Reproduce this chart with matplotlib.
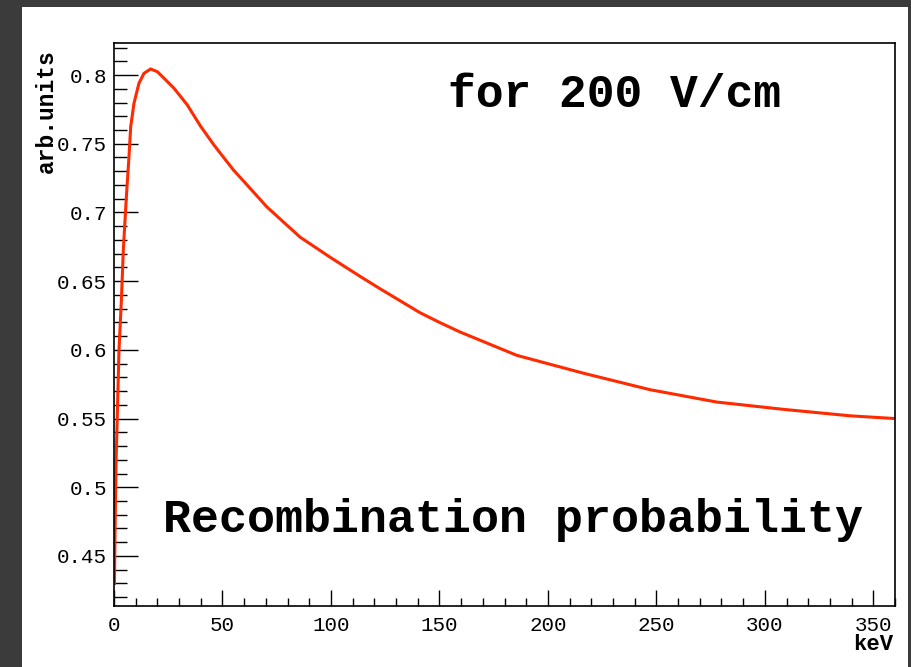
import matplotlib
matplotlib.use("Agg")
import matplotlib.pyplot as plt
from matplotlib.patches import Rectangle
from matplotlib.ticker import FixedLocator, FixedFormatter, MultipleLocator

# Data (energy in keV, recombination probability)
energy_kev = [0.2, 0.5, 0.9, 1.5, 2.3, 3.4, 4.3, 5.8, 6.9, 7.7, 9.2, 11.5, 13.8,
              16.9, 20.0, 23.1, 27.7, 33.8, 39.8, 46.1, 55.0, 64.2, 70.4, 85.8,
              100.0, 113.4, 122.6, 141.1, 150.0, 159.5, 185.7, 216.4, 247.1,
              277.9, 308.6, 339.3, 360.0]
probability = [0.430, 0.470, 0.515, 0.551, 0.600, 0.636, 0.673, 0.714, 0.7405, 0.7624,
               0.7794, 0.794, 0.8012, 0.8044, 0.8024, 0.7976, 0.7903, 0.7782, 0.763,
               0.749, 0.731, 0.715, 0.7041, 0.682, 0.667, 0.6535, 0.6445, 0.627,
               0.620, 0.613, 0.596, 0.583, 0.571, 0.562, 0.5567, 0.552, 0.550]

x_ticks = [0, 50, 100, 150, 200, 250, 300, 350]
x_tick_labels = ["0", "50", "100", "150", "200", "250", "300", "350"]
y_ticks = [0.45, 0.5, 0.55, 0.6, 0.65, 0.7, 0.75, 0.8]
y_tick_labels = ["0.45", "0.5", "0.55", "0.6", "0.65", "0.7", "0.75", "0.8"]

W, H = 912, 667
fig = plt.figure(figsize=(W / 100, H / 100), dpi=100)
fig.patch.set_facecolor("#3b3b3b")
fig.patches.append(Rectangle((22 / W, 0), (908 - 22) / W, (H - 7) / H,
                             transform=fig.transFigure, facecolor="white",
                             edgecolor="none", zorder=-10))

ax = fig.add_axes([114 / W, 1 - 606 / H, (895 - 114) / W, (606 - 43) / H])
ax.set_zorder(5)
ax.set_facecolor("white")
ax.plot(energy_kev, probability, color="#ff2a00", lw=2.2, solid_joinstyle="round")
ax.set_xlim(0, 360)
ax.set_ylim(0.4136, 0.8233)

mono = "Liberation Mono"
ax.xaxis.set_major_locator(FixedLocator(x_ticks))
ax.xaxis.set_major_formatter(FixedFormatter(x_tick_labels))
ax.xaxis.set_minor_locator(MultipleLocator(10))
ax.yaxis.set_major_locator(FixedLocator(y_ticks))
ax.yaxis.set_major_formatter(FixedFormatter(y_tick_labels))
ax.yaxis.set_minor_locator(MultipleLocator(0.01))

ax.tick_params(axis="x", which="major", direction="in", length=11.5, width=1.0, pad=7,
               labelsize=15)
ax.tick_params(axis="x", which="minor", direction="in", length=6, width=1.0)
ax.tick_params(axis="y", which="major", direction="in", length=17, width=1.0, pad=5,
               labelsize=15)
ax.tick_params(axis="y", which="minor", direction="in", length=9.5, width=1.0)
for lab in ax.get_xticklabels() + ax.get_yticklabels():
    lab.set_family(mono)
for sp in ax.spines.values():
    sp.set_linewidth(1.2)
    sp.set_color("black")

ax.text(0.428, 0.908, "for 200 V/cm", transform=ax.transAxes, family=mono,
        fontweight="bold", fontsize=33.3, ha="left", va="center")
ax.text(0.063, 0.153, "Recombination probability", transform=ax.transAxes, family=mono,
        fontweight="bold", fontsize=33.6, ha="left", va="center")

fig.text(46 / W, 1 - 111 / H, "arb.units", rotation=90, family=mono, fontweight="bold",
         fontsize=16.5, ha="center", va="center", zorder=10)
fig.text(893 / W, 1 - 645 / H, "keV", family=mono, fontweight="bold",
         fontsize=16, ha="right", va="center", zorder=10)

fig.savefig("out.png", dpi=100, facecolor=fig.get_facecolor())
